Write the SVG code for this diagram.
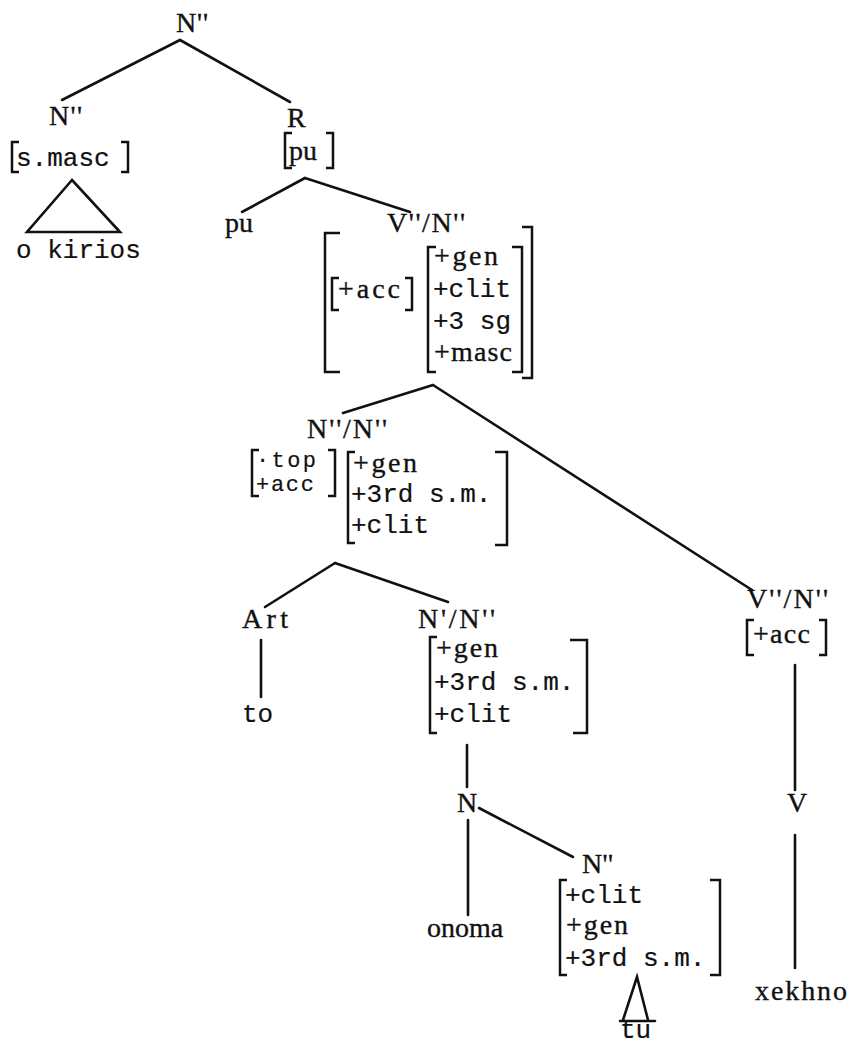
<svg xmlns="http://www.w3.org/2000/svg" width="851" height="1047" viewBox="0 0 851 1047">
<style>
.t{font-family:"Liberation Serif","DejaVu Serif",serif;font-size:28px;fill:#111;stroke:#111;stroke-width:0.35}
.m{font-family:"Liberation Mono","DejaVu Sans Mono",monospace;font-size:26px;fill:#111;stroke:#111;stroke-width:0.2}
.s{font-size:22px}
.l{stroke:#111;stroke-width:2.6;fill:none;stroke-linecap:round}
.b{stroke:#111;stroke-width:2.5;fill:none}
</style>
<rect width="851" height="1047" fill="#fff"/>
<g id="connectors">
<path class="l" d="M180 40L62 100"/>
<path class="l" d="M180 40L290 102"/>
<path class="l" d="M305 178L242 212"/>
<path class="l" d="M305 178L410 212"/>
<path class="l" d="M433 385L343 413"/>
<path class="l" d="M433 385L752 590"/>
<path class="l" d="M335 563L265 607"/>
<path class="l" d="M335 563L448 602"/>
<path class="l" d="M261 640V697"/>
<path class="l" d="M467 745V787"/>
<path class="l" d="M468 820V915"/>
<path class="l" d="M479 808L573 857"/>
<path class="l" d="M795 665V790"/>
<path class="l" d="M795 835V968"/>
</g>
<g id="n-root"><text class="t" x="176" y="32" textLength="32">N''</text></g>
<g id="n-np">
<text class="t" x="49" y="125" textLength="33">N''</text>
<path class="b" d="M19 142H12V172H19M121 142H128V172H121"/>
<text class="m" x="16" y="166">s.masc</text>
</g>
<g id="n-triangle1"><path class="l" d="M72 180L27 232H120Z"/></g>
<g id="n-okirios"><text class="m" x="16" y="258">o kirios</text></g>
<g id="n-R">
<text class="t" x="287" y="127">R</text>
<path class="b" d="M292 133H285V168H292M326 133H333V168H326"/>
<text class="t" x="289" y="160">pu</text>
</g>
<g id="n-pu"><text class="t" x="225" y="232">pu</text></g>
<g id="n-vn1">
<text class="t" x="387" y="232" textLength="78">V''/N''</text>
<path class="b" d="M340 233H325V372H340M522 227H532V378H522"/>
<path class="b" d="M339 278H332V310H339M405 278H412V310H405"/>
<text class="t" x="338" y="298" textLength="62">+acc</text>
<path class="b" d="M436 247H428V372H436M512 247H522V372H512"/>
<text class="t" x="434" y="265" textLength="64">+gen</text>
<text class="m" x="433" y="297">+clit</text>
<text class="m" x="433" y="329">+3 sg</text>
<text class="t" x="434" y="361" textLength="78">+masc</text>
</g>
<g id="n-nn">
<text class="t" x="307" y="438" textLength="80">N''/N''</text>
<path class="b" d="M259 450H252V496H259M328 450H335V496H328"/>
<text class="m s" x="256" y="467" textLength="60">·top</text>
<text class="m s" x="256" y="491" textLength="58">+acc</text>
<path class="b" d="M355 452H348V543H355M495 452H507V545H495"/>
<text class="t" x="353" y="472" textLength="64">+gen</text>
<text class="m" x="351" y="502">+3rd s.m.</text>
<text class="m" x="351" y="533">+clit</text>
</g>
<g id="n-art"><text class="t" x="242" y="628" textLength="46">Art</text></g>
<g id="n-to"><text class="m" x="242" y="722">to</text></g>
<g id="n-n1n">
<text class="t" x="418" y="628" textLength="77">N'/N''</text>
<path class="b" d="M437 637H430V733H437M570 640H587V733H573"/>
<text class="t" x="436" y="657" textLength="62">+gen</text>
<text class="m" x="434" y="690">+3rd s.m.</text>
<text class="m" x="434" y="722">+clit</text>
</g>
<g id="n-N"><text class="t" x="457" y="812">N</text></g>
<g id="n-onoma"><text class="t" x="427" y="937">onoma</text></g>
<g id="n-np2">
<text class="t" x="582" y="873" textLength="31">N''</text>
<path class="b" d="M567 880H560V975H567M710 880H720V975H710"/>
<text class="m" x="565" y="903">+clit</text>
<text class="t" x="566" y="934" textLength="62">+gen</text>
<text class="m" x="565" y="966">+3rd s.m.</text>
</g>
<g id="n-triangle2"><path class="l" d="M623 1020L637 977L648 1020M620 1021H655"/></g>
<g id="n-tu"><text class="m" x="620" y="1038">tu</text></g>
<g id="n-vn2">
<text class="t" x="747" y="608" textLength="81">V''/N''</text>
<path class="b" d="M754 620H747V655H754M819 620H826V655H819"/>
<text class="t" x="753" y="643" textLength="57">+acc</text>
</g>
<g id="n-V"><text class="t" x="787" y="812">V</text></g>
<g id="n-xekhno"><text class="t" x="755" y="1000" textLength="92">xekhno</text></g>
</svg>
